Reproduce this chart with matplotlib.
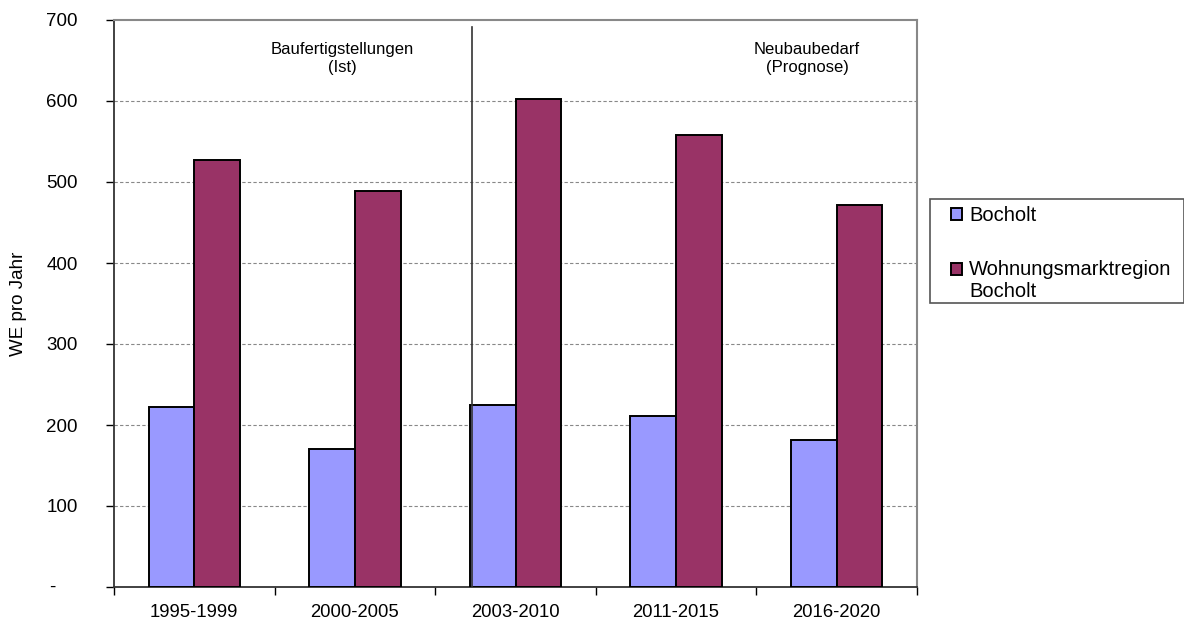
import matplotlib
matplotlib.use("Agg")
import matplotlib.pyplot as plt
import matplotlib.transforms as mtransforms
from matplotlib.patches import Rectangle
from matplotlib.legend_handler import HandlerPatch, update_from_first_child
import numpy as np

plt.rcParams['font.family'] = ['Liberation Sans', 'DejaVu Sans']

categories = ["1995-1999", "2000-2005", "2003-2010", "2011-2015", "2016-2020"]
bocholt = [222, 170, 225, 211, 181]
region = [527, 489, 602, 558, 472]
series_names = ["Bocholt", "Wohnungsmarktregion\nBocholt"]
yticks = [0, 100, 200, 300, 400, 500, 600, 700]
ytick_labels = ["", "100", "200", "300", "400", "500", "600", "700"]
zero_label = "-"

fig = plt.figure(figsize=(11.84, 6.24), dpi=100)
ax = fig.add_axes([114/1184, 1-587/624, (917-114)/1184, (587-20)/624])

x = np.arange(len(categories))
w = 0.285
b1 = ax.bar(x - w/2, bocholt, w, color="#9999FF", edgecolor="black", linewidth=1.4, label=series_names[0], zorder=3)
b2 = ax.bar(x + w/2, region, w, color="#993366", edgecolor="black", linewidth=1.4, label=series_names[1], zorder=3)

ax.set_xlim(-0.5, len(categories) - 0.5)
ax.set_ylim(0, 700)
ax.set_yticks(yticks)
ax.set_yticklabels(ytick_labels, fontsize=13.5)
ax.set_xticks(x)
ax.set_xticklabels(categories, fontsize=13.3)
ax.set_xticks(np.arange(-0.5, len(categories)), minor=True)
ax.tick_params(axis='x', which='major', length=0, pad=12)
ax.tick_params(axis='x', which='minor', length=6, direction='out', width=1)
ax.tick_params(axis='y', length=6, direction='out', width=1, pad=20)

blend = mtransforms.blended_transform_factory(ax.transAxes, ax.transData)
ax.text(-(114-55)/803, 0, zero_label, transform=blend, ha="right", va="center", fontsize=13.5)

for yv in yticks[1:-1]:
    ax.axhline(yv, color="#888888", linestyle=(0, (3, 2)), linewidth=0.8, zorder=1)

for s in ['top', 'right']:
    ax.spines[s].set_color("#888888")
    ax.spines[s].set_linewidth(1.5)
for s in ['left', 'bottom']:
    ax.spines[s].set_color("#333333")
    ax.spines[s].set_linewidth(1.3)

ax.plot([1.73, 1.73], [0, 691], color="#333333", linewidth=1.2, zorder=4)

ax.text(0.92, 652, "Baufertigstellungen\n(Ist)", ha="center", va="center", fontsize=12, linespacing=1.25)
ax.text(3.815, 652, "Neubaubedarf\n(Prognose)", ha="center", va="center", fontsize=12, linespacing=1.25)

ax.set_ylabel("WE pro Jahr", fontsize=13.5)
ax.yaxis.set_label_coords(-(114-27)/803, 0.5)

fig.patches.append(Rectangle((930/1184, 1-303/624), 254/1184, 104/624, transform=fig.transFigure,
                             fill=False, edgecolor="#555555", linewidth=1.2))


def shifted_patch(legend, orig_handle, xdescent, ydescent, width, height, fontsize):
    return Rectangle((-xdescent, -ydescent + 8.5), width, height)


handler_top = HandlerPatch(patch_func=shifted_patch, update_func=update_from_first_child)
leg = fig.legend([b1, b2], series_names, loc="upper left", bbox_to_anchor=(945/1184, 1-200/624),
                 fontsize=14.5, frameon=False,
                 handlelength=0.55, handleheight=0.55, handletextpad=0.35,
                 labelspacing=1.75, borderaxespad=0, borderpad=0.3,
                 handler_map={b2: handler_top})

fig.savefig("out.png", dpi=100)
